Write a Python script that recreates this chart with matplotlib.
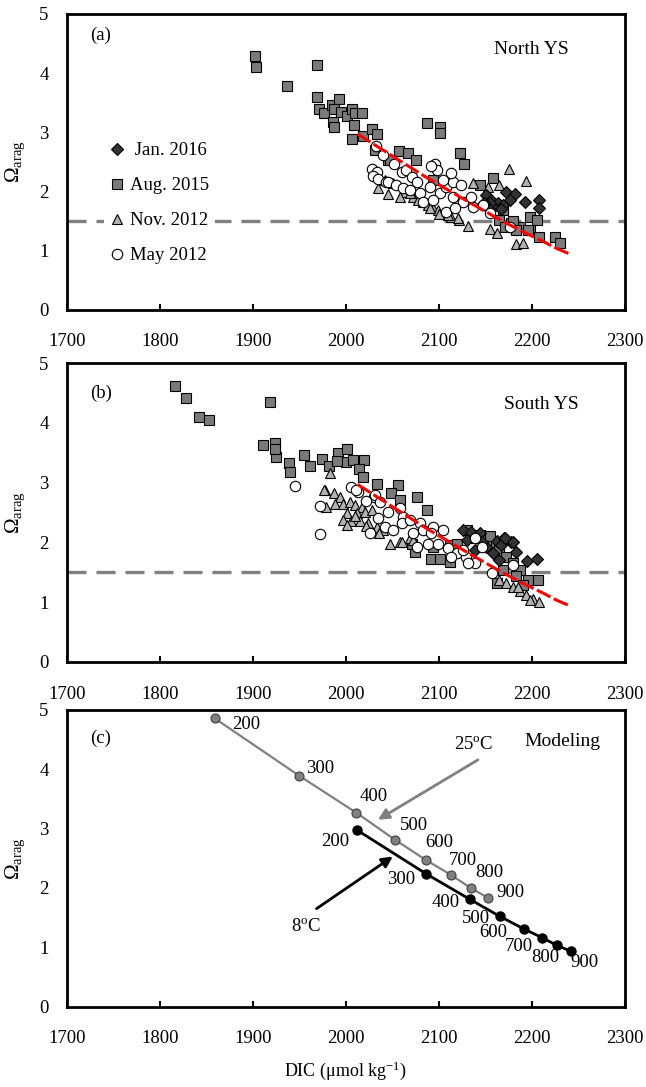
import matplotlib
matplotlib.use("Agg")
import matplotlib.pyplot as plt

plt.rcParams['font.family'] = ['Liberation Serif', 'DejaVu Serif']
plt.rcParams['mathtext.fontset'] = 'custom'
plt.rcParams['mathtext.rm'] = 'Liberation Serif'
plt.rcParams['mathtext.it'] = 'Liberation Serif:italic'
plt.rcParams['mathtext.bf'] = 'Liberation Serif:bold'

FS = 13.5

# ---------------- data: North YS (panel a) ----------------
a_aug_dic = [1902, 1903, 1937, 1968.5, 1968.5, 1971, 1977, 1985, 1992.5, 1987, 1995, 2001, 2007, 2010, 2017,
             1986, 1987, 2009, 2007, 2018.6, 2027.6, 2033, 2031, 2045, 2086.7, 2101, 2101.7, 2122.5, 2127,
             2057, 2067, 2075, 2047, 2094, 2144, 2158, 2165, 2178, 2187, 2197.6, 2205, 2197.6, 2208, 2224.5,
             2230, 2171, 2180, 2196, 2183, 2169]
a_aug_om = [4.29, 4.11, 3.78, 4.14, 3.60, 3.39, 3.33, 3.46, 3.57, 3.39, 3.35, 3.27, 3.39, 3.33, 3.32,
            3.18, 3.09, 3.12, 2.88, 2.94, 3.05, 2.97, 2.70, 2.53, 3.16, 3.08, 2.98, 2.64, 2.47,
            2.69, 2.65, 2.53, 2.53, 2.19, 2.11, 2.22, 1.51, 1.46, 1.40, 1.57, 1.51, 1.35, 1.23, 1.22,
            1.13, 1.40, 1.49, 1.35, 1.35, 1.68]

a_nov_dic = [2175, 2194, 2137, 2153, 2165, 2155, 2162, 2183, 2190, 2131, 2122, 2113, 2104.5, 2094, 2083,
             2072, 2061.6, 2051, 2042, 2068.7, 2077.6, 2088, 2099, 2110, 2035, 2045, 2058, 2090, 2120, 2100]
a_nov_om = [2.37, 2.17, 2.14, 2.08, 2.11, 1.36, 1.29, 1.10, 1.12, 1.41, 1.51, 1.57, 1.63, 1.71, 1.82,
            1.91, 1.99, 2.14, 2.19, 1.97, 1.85, 1.77, 1.68, 1.60, 2.05, 1.95, 1.90, 1.72, 1.55, 1.62]

a_jan_dic = [2172.6, 2181.5, 2176, 2193, 2207.6, 2207.6, 2151, 2156.5, 2163.6, 2169, 2158, 2154.7, 2149,
             2155, 2167]
a_jan_om = [1.99, 1.95, 1.85, 1.82, 1.85, 1.71, 1.94, 1.85, 1.80, 1.77, 1.74, 1.80, 1.80, 1.68, 1.70]

a_may_dic = [2032, 2040, 2027.6, 2033, 2029, 2034.7, 2043, 2052, 2095.6, 2097.6, 2092, 2045.5, 2054, 2060,
             2065, 2070.7, 2076, 2061.6, 2068.8, 2079.5, 2090, 2101, 2108, 2115, 2124, 2115, 2126, 2135,
             2137, 2147.5, 2083, 2094, 2108, 2117, 2155, 2176, 2113, 2104.5]
a_may_om = [2.77, 2.61, 2.37, 2.33, 2.26, 2.20, 2.16, 2.47, 2.47, 2.36, 2.42, 2.16, 2.11, 2.33,
            2.36, 2.25, 2.16, 2.05, 2.02, 1.97, 2.08, 1.97, 2.08, 2.16, 2.11, 1.91, 1.82, 1.91,
            1.74, 1.77, 1.82, 1.86, 1.65, 1.71, 1.63, 1.39, 2.31, 2.19]

# ---------------- data: South YS (panel b) ----------------
b_aug_dic = [1816.5, 1828, 1842, 1853, 1919, 1911, 1924, 1925, 1924, 1938.5, 1940, 1955, 1962, 1974, 1982,
             1992, 2001, 2000, 2008, 2020, 2014, 2018, 2033, 1990, 2056, 2048, 2077, 2087, 2058, 2092,
             2101, 2112, 2074, 2071, 2130, 2137, 2158, 2165, 2172, 2180, 2187, 2196, 2206, 2169, 2162,
             2151, 2155, 2112, 2119, 2094, 2183, 2190, 2144]
b_aug_om = [4.62, 4.42, 4.10, 4.05, 4.34, 3.63, 3.66, 3.43, 3.56, 3.33, 3.17, 3.46, 3.28, 3.39, 3.28,
            3.50, 3.57, 3.35, 3.38, 3.38, 3.22, 3.10, 2.98, 3.36, 2.96, 2.83, 2.76, 2.54, 2.71, 1.73,
            1.73, 1.68, 1.84, 1.98, 2.21, 2.07, 1.98, 1.90, 1.76, 1.65, 1.54, 1.37, 1.37, 1.54, 1.32,
            1.98, 2.10, 1.96, 1.98, 1.93, 1.43, 1.29, 2.12]

b_nov_dic = [1977.5, 1979, 1983, 1976, 1987, 1994, 1988, 1997, 2004, 2010, 2017, 2001, 2012, 2020.5, 2028,
             1997, 2006, 2015, 2024, 2033, 2040, 2047.6, 2058, 2069, 2165, 2172, 2180, 2187, 2194, 2201,
             2208, 2197.6, 2185, 2001, 2010, 2022, 2036, 2060, 2072]
b_nov_om = [2.88, 2.60, 3.16, 2.88, 2.82, 2.76, 2.65, 2.65, 2.68, 2.63, 2.60, 2.49, 2.50, 2.51, 2.54,
            2.37, 2.35, 2.35, 2.32, 2.26, 2.21, 1.98, 2.01, 2.07, 1.37, 1.32, 1.26, 1.18, 1.12, 1.06,
            1.01, 1.04, 1.26, 2.29, 2.44, 2.28, 2.15, 2.01, 2.04]

b_jan_dic = [2126, 2135, 2144, 2162, 2170, 2178, 2183, 2195, 2205.6, 2151, 2158, 2165, 2146, 2139, 2167,
             2130, 2171, 2180]
b_jan_om = [2.20, 2.18, 2.16, 2.03, 2.07, 2.00, 1.84, 1.69, 1.72, 1.93, 1.82, 1.71, 2.01, 1.87, 1.96,
            2.04, 2.07, 2.01]

b_may_dic = [1945, 1972, 1972, 2006, 2013, 2030, 2022, 2011, 2031, 2036.5, 2045, 2058, 2061.6, 2034.7,
             2026, 2042, 2051, 2060, 2069, 2079.5, 2094, 2104.5, 2083, 2072, 2088, 2099, 2110, 2119,
             2129.6, 2138.6, 2138.6, 2146, 2156.6, 2180, 2131, 2126, 2113, 2092, 2076]
b_may_om = [2.94, 2.61, 2.14, 2.93, 2.85, 2.76, 2.70, 2.88, 2.79, 2.68, 2.51, 2.57, 2.43, 2.40,
            2.15, 2.26, 2.21, 2.32, 2.37, 2.32, 2.26, 2.21, 2.21, 2.15, 1.98, 1.98, 1.90, 1.82,
            1.76, 1.65, 2.07, 1.93, 1.48, 1.62, 1.65, 1.87, 1.76, 2.15, 1.93]

# ---------------- data: modeling (panel c) ----------------
pco2_labels = ['200', '300', '400', '500', '600', '700', '800', '900']
m25_dic = [1859, 1950, 2011, 2053, 2086, 2113, 2134, 2153]
m25_om = [4.86, 3.89, 3.27, 2.81, 2.47, 2.22, 2.00, 1.83]
m8_dic = [2012.5, 2086, 2133, 2165.5, 2191, 2211, 2227, 2242]
m8_om = [2.97, 2.24, 1.81, 1.52, 1.31, 1.16, 1.03, 0.93]

threshold = 1.5
xticks = [1700, 1800, 1900, 2000, 2100, 2200, 2300]
yticks = [0, 1, 2, 3, 4, 5]

W, H = 646, 1087
fig = plt.figure(figsize=(W / 100, H / 100), dpi=100)

left = 66.7 / W
width = (625 - 66.7) / W
def axrect(top_px, bot_px):
    return [left, 1 - bot_px / H, width, (bot_px - top_px) / H]

ax_a = fig.add_axes(axrect(14, 309.5))
ax_b = fig.add_axes(axrect(363, 662))
ax_c = fig.add_axes(axrect(710, 1006.5))

def style(ax):
    ax.set_xlim(1700, 2300)
    ax.set_ylim(0, 5)
    ax.set_xticks(xticks)
    ax.set_yticks(yticks)
    ax.tick_params(axis='x', direction='in', length=4, width=1.5, pad=17, labelsize=FS,
                   top=False)
    ax.tick_params(axis='y', length=0, pad=13, labelsize=FS)
    for s in ax.spines.values():
        s.set_linewidth(2.0)
        s.set_color('black')
    ax.set_ylabel(r'$\Omega_{\mathrm{arag}}$', fontsize=FS + 1.5, labelpad=9)

mk = dict(linestyle='none', markeredgecolor='black', markeredgewidth=0.8)

def scatter_panel(ax, jan, aug, nov, may):
    ax.axhline(threshold, color='#808080', lw=2.4, ls=(0, (5.7, 3.0)), zorder=1)
    ax.plot(aug[0], aug[1], marker='s', ms=7.3, markerfacecolor='#7a7a7a', label='Aug. 2015', zorder=3, **mk)
    ax.plot(nov[0], nov[1], marker='^', ms=7.8, markerfacecolor='#b3b3b3', label='Nov. 2012', zorder=3, **mk)
    ax.plot(jan[0], jan[1], marker='D', ms=6.0, markerfacecolor='#333333', label=' Jan. 2016', zorder=3, **mk)
    ax.plot(may[0], may[1], marker='o', ms=7.5, markerfacecolor='white', label='May 2012', zorder=3, **mk)
    ax.plot(m8_dic, m8_om, color='red', lw=2.2, ls=(0, (5, 1.2)), zorder=5)

style(ax_a)
style(ax_b)
style(ax_c)

scatter_panel(ax_a, (a_jan_dic, a_jan_om), (a_aug_dic, a_aug_om), (a_nov_dic, a_nov_om), (a_may_dic, a_may_om))
scatter_panel(ax_b, (b_jan_dic, b_jan_om), (b_aug_dic, b_aug_om), (b_nov_dic, b_nov_om), (b_may_dic, b_may_om))

h, l = ax_a.get_legend_handles_labels()
order = [l.index(' Jan. 2016'), l.index('Aug. 2015'), l.index('Nov. 2012'), l.index('May 2012')]
leg = ax_a.legend([h[i] for i in order], [l[i] for i in order], loc='upper left',
                  bbox_to_anchor=(0.067, 0.585), fontsize=FS, handlelength=0.8, handletextpad=0.3,
                  labelspacing=0.95, borderpad=0.3, borderaxespad=0, frameon=True, fancybox=False,
                  framealpha=1.0, facecolor='white', edgecolor='none')
leg.set_zorder(6)

ax_a.text(1725, 4.64, '(a)', fontsize=FS, ha='left', va='center')
ax_a.text(2199, 4.40, 'North YS', fontsize=FS + 0.5, ha='center', va='center')
ax_b.text(1725, 4.50, '(b)', fontsize=FS, ha='left', va='center')
ax_b.text(2210, 4.30, 'South YS', fontsize=FS + 0.5, ha='center', va='center')

# panel c
ax_c.plot(m25_dic, m25_om, color='#808080', lw=1.6, marker='o', ms=6.5, markerfacecolor='#808080',
          markeredgecolor='#404040', markeredgewidth=0.8, zorder=3)
ax_c.plot(m8_dic, m8_om, color='black', lw=2.0, marker='o', ms=6.5, markerfacecolor='black',
          markeredgecolor='black', zorder=3)

g_pos = [(1878, 4.75), (1957, 4.02), (2015, 3.54), (2058, 3.06), (2085, 2.77), (2111, 2.47),
         (2139, 2.26), (2162, 1.93)]
for lab, (x, y) in zip(pco2_labels, g_pos):
    ax_c.text(x, y, lab, fontsize=FS, ha='left', va='center')
b_pos = [(2004, 2.78, 'right'), (2074, 2.15, 'right'), (2122, 1.75, 'right'), (2154.6, 1.49, 'right'),
         (2143, 1.24, 'left'), (2171, 1.02, 'left'), (2199.5, 0.82, 'left'), (2241, 0.74, 'left')]
for lab, (x, y, ha) in zip(pco2_labels, b_pos):
    ax_c.text(x, y, lab, fontsize=FS, ha=ha, va='center')

ax_c.annotate('', xy=(2034.5, 3.15), xytext=(2142, 4.16),
              arrowprops=dict(arrowstyle='-|>', color='#808080', lw=2.0, mutation_scale=16,
                              shrinkA=0, shrinkB=0))
ax_c.annotate('', xy=(2050.5, 2.53), xytext=(1968.5, 1.65),
              arrowprops=dict(arrowstyle='-|>', color='black', lw=2.0, mutation_scale=16,
                              shrinkA=0, shrinkB=0))
ax_c.text(2137, 4.41, r'25$^{\mathrm{o}}$C', fontsize=FS, ha='center', va='center')
ax_c.text(1957, 1.35, r'8$^{\mathrm{o}}$C', fontsize=FS, ha='center', va='center')
ax_c.text(2233, 4.47, 'Modeling', fontsize=FS + 0.5, ha='center', va='center')
ax_c.text(1725, 4.53, '(c)', fontsize=FS, ha='left', va='center')

ax_c.set_xlabel(r'DIC ($\mathrm{\mu}$mol kg$^{\mathrm{-1}}$)', fontsize=FS - 0.5, labelpad=9)

fig.savefig('out.png', dpi=100)
